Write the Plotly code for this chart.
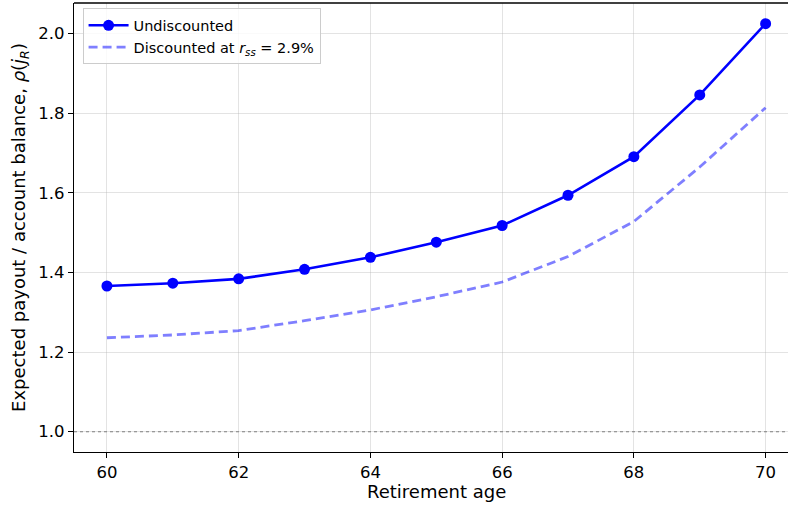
import plotly.graph_objects as go

ages = [60, 61, 62, 63, 64, 65, 66, 67, 68, 69, 70]
undiscounted = [1.366, 1.373, 1.384, 1.408, 1.438, 1.476, 1.518, 1.594, 1.691, 1.846, 2.025]
discounted = [1.236, 1.243, 1.254, 1.279, 1.306, 1.339, 1.376, 1.440, 1.528, 1.665, 1.814]
x_ticks = [60, 62, 64, 66, 68, 70]
y_ticks = [1.0, 1.2, 1.4, 1.6, 1.8, 2.0]
reference_level = 1.0

FONT = "DejaVu Sans"

fig = go.Figure()
fig.add_trace(go.Scatter(
    x=ages, y=undiscounted, mode="lines+markers", name="Undiscounted",
    line=dict(color="#0000ff", width=2.6),
    marker=dict(color="#0000ff", size=11),
))
fig.add_trace(go.Scatter(
    x=ages, y=discounted, mode="lines",
    name="Discounted at <i>r<sub>ss</sub></i> = 2.9%",
    line=dict(color="rgba(0,0,255,0.5)", width=2.8, dash="9px,5px"),
))

fig.add_hline(y=reference_level, line=dict(color="#808080", width=1.1, dash="dot"))
fig.add_shape(type="line", xref="paper", yref="paper", x0=0, x1=1, y0=1, y1=1,
              line=dict(color="black", width=1.3))

# x-axis title centred on the full (partially cropped) axes, as in the reference
fig.add_annotation(
    text="Retirement age", xref="paper", yref="paper", x=0.508, y=0,
    xanchor="center", yanchor="top", yshift=-27, showarrow=False,
    font=dict(family=FONT, size=18, color="black"),
)

fig.update_layout(
    width=788, height=508,
    margin=dict(l=74, r=0, t=3, b=56),
    paper_bgcolor="white", plot_bgcolor="white",
    font=dict(family=FONT, size=16, color="black"),
    showlegend=True,
    legend=dict(
        x=0.012, y=0.988, xanchor="left", yanchor="top",
        bgcolor="rgba(255,255,255,0.8)", bordercolor="#cccccc", borderwidth=1,
        font=dict(family=FONT, size=14.5, color="black"),
        tracegroupgap=0, itemwidth=40,
    ),
)
fig.update_xaxes(
    range=[59.5, 70.34], tickvals=x_ticks, ticktext=[str(v) for v in x_ticks],
    showline=True, linecolor="black", linewidth=1.3, mirror=False,
    ticks="outside", ticklen=5, tickwidth=1.2, tickcolor="black",
    showgrid=True, gridcolor="rgba(176,176,176,0.35)", gridwidth=1,
    zeroline=False,
    tickfont=dict(family=FONT, size=16.5),
)
fig.update_yaxes(
    range=[0.949, 2.077], tickvals=y_ticks, ticktext=[f"{v:.1f}" for v in y_ticks],
    showline=True, linecolor="black", linewidth=1.3, mirror=False,
    ticks="outside", ticklen=5, tickwidth=1.2, tickcolor="black",
    showgrid=True, gridcolor="rgba(176,176,176,0.35)", gridwidth=1,
    zeroline=False,
    title=dict(text="Expected payout / account balance, <i>ρ</i>(<i>j<sub>R</sub></i>)",
               font=dict(family=FONT, size=18), standoff=7),
    tickfont=dict(family=FONT, size=16.5),
)

fig.write_html("out.html")
